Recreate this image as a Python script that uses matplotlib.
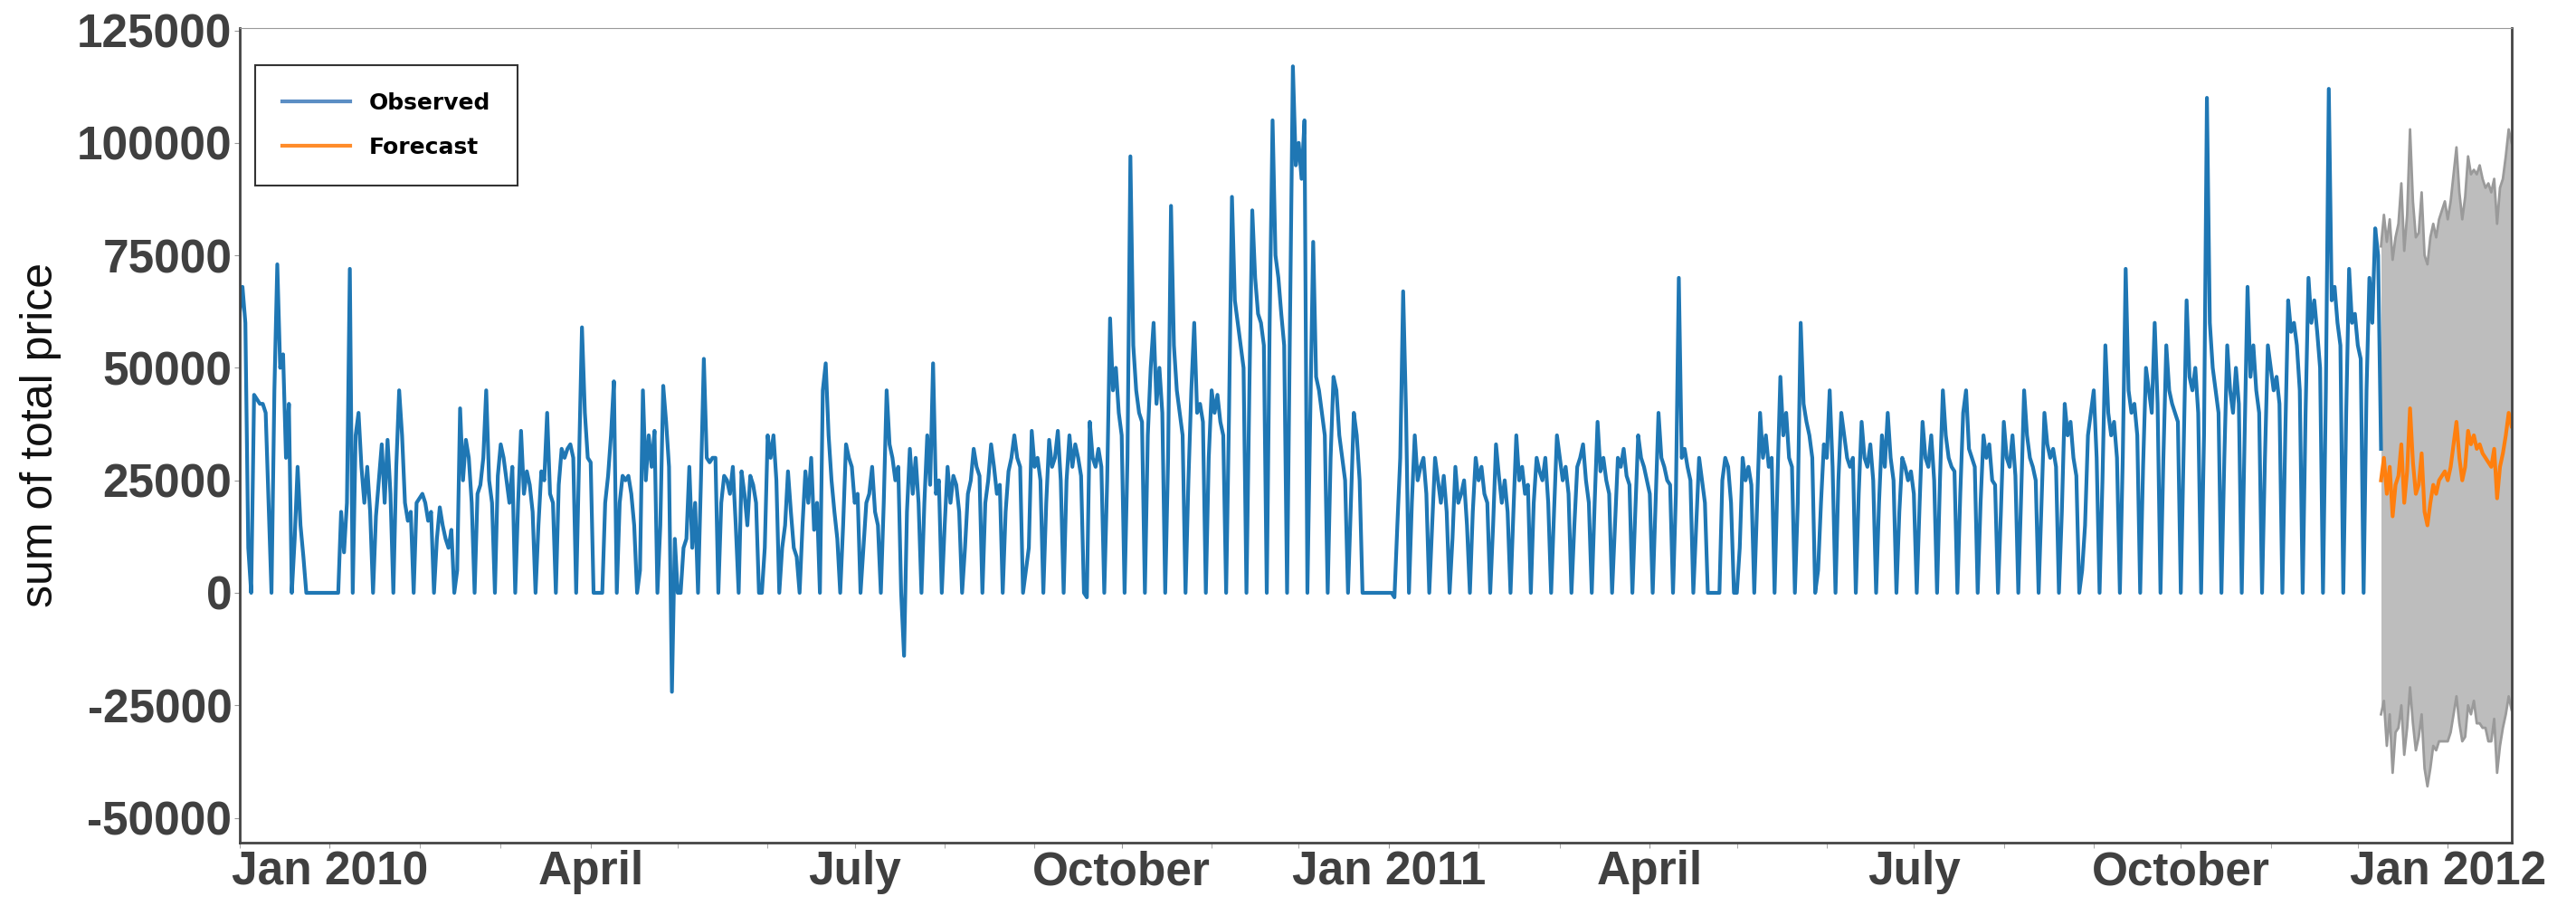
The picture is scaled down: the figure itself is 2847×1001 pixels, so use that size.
import numpy as np
import pandas as pd
import matplotlib
matplotlib.use("Agg")
import matplotlib.pyplot as plt
import matplotlib.dates as mdates
from matplotlib.lines import Line2D

# daily totals in thousands, one row per week (Sun..Sat), first week starts Sun 2009-11-29
weeks_2010 = [
    [40, 55, 62, 68, 60, 10, 0],
    [44, 43, 42, 42, 40, 20, 0],
    [45, 73, 50, 53, 30, 42, 0],
    [12, 28, 15, 8, 0, 0, 0],
    [0, 0, 0, 0, 0, 0, 0],
    [0, 0, 18, 9, 20, 72, 0],
    [35, 40, 28, 20, 28, 18, 0],
    [17, 25, 33, 20, 34, 22, 0],
    [28, 45, 35, 20, 16, 18, 0],
    [20, 21, 22, 20, 16, 18, 0],
    [12, 19, 15, 12, 10, 14, 0],
    [5, 41, 25, 34, 30, 20, 0],
    [22, 24, 30, 45, 25, 20, 0],
    [26, 33, 30, 25, 20, 28, 0],
    [20, 36, 22, 27, 24, 18, 0],
    [15, 27, 25, 40, 22, 20, 0],
    [24, 32, 30, 32, 33, 30, 0],
    [30, 59, 40, 30, 29, 0, 0],
    [0, 0, 20, 26, 35, 47, 0],
    [20, 26, 25, 26, 22, 15, 0],
    [5, 45, 25, 35, 28, 36, 0],
    [15, 46, 38, 28, -22, 12, 0],
    [0, 10, 12, 28, 10, 20, 0],
    [25, 52, 30, 29, 30, 30, 0],
    [20, 26, 25, 22, 28, 15, 0],
    [27, 22, 15, 26, 24, 20, 0],
    [0, 10, 35, 30, 35, 25, 0],
    [10, 15, 27, 18, 10, 8, 0],
    [15, 27, 20, 30, 14, 20, 0],
    [45, 51, 35, 25, 18, 12, 0],
    [15, 33, 30, 28, 20, 22, 0],
    [10, 20, 22, 28, 18, 15, 0],
    [20, 45, 33, 30, 25, 28, 0],
    [-14, 18, 32, 22, 30, 20, 0],
    [20, 35, 24, 51, 22, 25, 0],
    [15, 28, 20, 26, 24, 18, 0],
    [10, 22, 25, 32, 28, 26, 0],
    [20, 25, 33, 28, 22, 24, 0],
    [18, 27, 30, 35, 30, 28, 0],
    [5, 10, 36, 28, 30, 25, 0],
    [20, 34, 28, 30, 36, 25, 0],
    [25, 35, 28, 33, 30, 26, 0],
    [-1, 38, 30, 28, 32, 28, 0],
    [25, 61, 45, 50, 40, 35, 0],
    [30, 97, 55, 45, 40, 38, 0],
    [35, 50, 60, 42, 50, 40, 0],
    [30, 86, 55, 45, 40, 35, 0],
    [25, 45, 60, 40, 42, 38, 0],
    [30, 45, 40, 44, 38, 35, 0],
    [40, 88, 65, 60, 55, 50, 0],
    [45, 85, 70, 62, 60, 55, 0],
    [60, 105, 75, 70, 62, 55, 0],
    [60, 117, 95, 100, 92, 105, 0],
    [40, 78, 48, 45, 40, 35, 0],
    [30, 48, 45, 35, 30, 25, 0],
    [20, 40, 35, 25, 0, 0, 0],
    [0, 0, 0, 0, 0, 0, 0],
]
weeks_2011 = [
    [0, -1, 15, 30, 67, 40, 0],
    [20, 35, 25, 28, 30, 22, 0],
    [15, 30, 25, 20, 26, 18, 0],
    [12, 28, 20, 22, 25, 15, 0],
    [18, 30, 25, 28, 22, 20, 0],
    [15, 33, 26, 20, 25, 18, 0],
    [18, 35, 25, 28, 22, 24, 0],
    [20, 30, 27, 25, 30, 20, 0],
    [18, 35, 30, 25, 28, 22, 0],
    [15, 28, 30, 33, 25, 20, 0],
    [20, 38, 27, 30, 25, 22, 0],
    [15, 30, 28, 32, 26, 24, 0],
    [18, 35, 30, 28, 25, 22, 0],
    [20, 40, 30, 28, 25, 24, 0],
    [22, 70, 30, 32, 28, 25, 0],
    [15, 30, 25, 20, 0, 0, 0],
    [0, 0, 25, 30, 28, 20, 0],
    [0, 10, 30, 25, 28, 24, 0],
    [20, 40, 30, 35, 28, 30, 0],
    [25, 48, 35, 40, 30, 28, 0],
    [20, 60, 42, 38, 35, 30, 0],
    [5, 20, 33, 30, 45, 28, 0],
    [25, 40, 35, 30, 28, 30, 0],
    [22, 38, 30, 28, 33, 25, 0],
    [20, 35, 28, 40, 30, 25, 0],
    [18, 30, 28, 25, 27, 22, 0],
    [20, 38, 30, 28, 35, 25, 0],
    [25, 45, 35, 30, 28, 27, 0],
    [22, 40, 45, 32, 30, 28, 0],
    [20, 35, 30, 33, 25, 24, 0],
    [18, 38, 30, 28, 35, 26, 0],
    [22, 45, 35, 30, 28, 25, 0],
    [20, 40, 33, 30, 32, 28, 0],
    [18, 42, 35, 38, 30, 26, 0],
    [5, 15, 35, 40, 45, 30, 0],
    [25, 55, 40, 35, 38, 30, 0],
    [30, 72, 45, 40, 42, 35, 0],
    [28, 50, 45, 40, 60, 42, 0],
    [30, 55, 45, 42, 40, 38, 0],
    [32, 65, 48, 45, 50, 40, 0],
    [35, 110, 60, 50, 45, 40, 0],
    [30, 55, 45, 40, 50, 42, 0],
    [35, 68, 48, 55, 45, 40, 0],
    [30, 55, 50, 45, 48, 42, 0],
    [35, 65, 58, 60, 55, 45, 0],
    [40, 70, 60, 65, 58, 50, 0],
    [45, 112, 65, 68, 60, 55, 0],
    [40, 72, 60, 62, 55, 52, 0],
    [45, 70, 60, 81, 75, 32],
]
forecast_k = [25, 30, 22, 28, 17, 24, 26, 33, 20, 27,
              41, 29, 22, 24, 31, 18, 15, 20, 24, 22,
              25, 26, 27, 25, 28, 33, 38, 30, 25, 28,
              36, 33, 35, 32, 33, 31, 30, 29, 28, 32,
              21, 28, 31, 35, 40, 37]
halfwidth_k = [52, 54, 56, 55, 57, 55, 56, 58, 56, 57,
               62, 58, 57, 56, 58, 57, 58, 59, 58, 57,
               58, 59, 60, 58, 59, 60, 61, 59, 58, 60,
               61, 60, 59, 61, 62, 61, 60, 62, 61, 60,
               61, 62, 61, 62, 63, 63]
quarter_labels = ["Jan 2010", "April", "July", "October",
                  "Jan 2011", "April", "July", "October", "Jan 2012"]

obs = np.array([v for w in weeks_2010 + weeks_2011 for v in w], dtype=float) * 1000
obs_dates = pd.date_range("2009-11-29", periods=len(obs), freq="D")
fc = np.array(forecast_k, dtype=float) * 1000
hw = np.array(halfwidth_k, dtype=float) * 1000
fc_dates = pd.date_range(obs_dates[-1], periods=len(fc), freq="D")

fig = plt.figure(figsize=(28.47, 10.01), dpi=100)
ax = fig.add_axes([0.093, 0.07, 0.882, 0.899])

ax.fill_between(fc_dates, fc - hw, fc + hw, color="#bdbdbd", lw=0)
ax.plot(fc_dates, fc + hw, color="#9a9a9a", lw=2)
ax.plot(fc_dates, fc - hw, color="#9a9a9a", lw=2)
ax.plot(obs_dates, obs, color="#1f77b4", lw=3)
ax.plot(fc_dates, fc, color="#ff7f0e", lw=3)

ax.set_xlim(pd.Timestamp("2009-12-01"), pd.Timestamp("2012-01-23"))
ax.set_ylim(-55500, 125500)
ax.set_yticks(np.arange(-50000, 125001, 25000))
ax.set_yticklabels([str(v) for v in range(-50000, 125001, 25000)])

qticks = pd.date_range("2010-01-01", "2012-01-01", freq="QS")
ax.set_xticks(qticks)
ax.set_xticklabels(quarter_labels)
ax.xaxis.set_minor_locator(mdates.MonthLocator())

for lab in ax.get_xticklabels() + ax.get_yticklabels():
    lab.set_fontfamily("Liberation Sans")
    lab.set_fontweight("bold")
    lab.set_fontsize(37)
    lab.set_color("#404040")
ax.tick_params(axis="both", which="both", length=4, color="#999999", pad=2)

ax.set_ylabel("sum of total price", fontsize=36, family="Liberation Sans", color="#111111", labelpad=12)

for s in ["left", "bottom"]:
    ax.spines[s].set_color("#444444")
    ax.spines[s].set_linewidth(2)
ax.spines["top"].set_color("#999999")
ax.spines["right"].set_color("#444444")
ax.spines["right"].set_linewidth(2)

handles = [Line2D([], [], color="#5b8ec4", lw=3), Line2D([], [], color="#ff8c2a", lw=3)]
leg = ax.legend(handles, ["Observed", "Forecast"], loc="upper left",
                bbox_to_anchor=(0.007, 0.955), prop={"weight": "bold", "size": 18},
                fancybox=False, edgecolor="black", handlelength=3.0,
                borderpad=1.2, labelspacing=1.0, borderaxespad=0)
leg.get_frame().set_linewidth(1.5)

fig.savefig("out.png", dpi=100)
